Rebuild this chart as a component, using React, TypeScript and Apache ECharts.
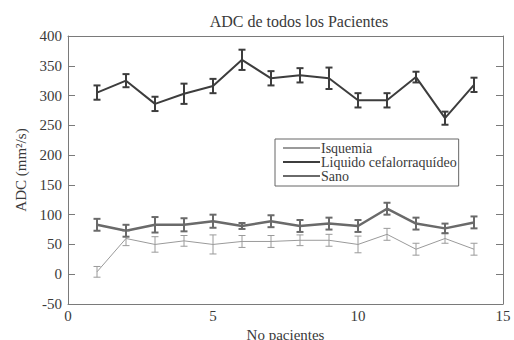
import React, { useEffect, useRef } from "react";
import * as echarts from "echarts";

const patients = [1, 2, 3, 4, 5, 6, 7, 8, 9, 10, 11, 12, 13, 14];
const liquido = [305, 325, 286, 303, 316, 360, 329, 334, 329, 292, 292, 331, 262, 318];
const liquidoErr = [12, 11, 12, 17, 12, 17, 12, 12, 18, 12, 12, 9, 11, 12];
const sano = [83, 73, 83, 83, 89, 81, 89, 81, 85, 81, 110, 85, 77, 87];
const sanoErr = [10, 10, 13, 11, 11, 5, 10, 10, 10, 10, 10, 10, 8, 10];
const isquemia = [4, 60, 50, 56, 50, 55, 55, 57, 57, 50, 67, 42, 60, 42];
const isquemiaErr = [9, 12, 13, 9, 16, 10, 10, 9, 10, 14, 10, 10, 8, 10];

const FONT = "Liberation Serif";
const TXT = "#3a3a3a";

export default function App() {
  const ref = useRef<HTMLDivElement>(null);
  useEffect(() => {
    if (!ref.current) return;
    const chart = echarts.init(ref.current, undefined, { renderer: "svg" });

    const lineSeries = (name: string, vals: number[], color: string, width: number) => ({
      name,
      type: "line",
      data: patients.map((p, i) => [p, vals[i]]),
      symbol: "none",
      showSymbol: false,
      lineStyle: { color, width },
      itemStyle: { color },
      z: 3,
    });

    const errSeries = (name: string, vals: number[], errs: number[], color: string, width: number) => ({
      name,
      type: "custom",
      data: patients.map((p, i) => [p, vals[i] - errs[i], vals[i] + errs[i]]),
      renderItem: (params: any, api: any) => {
        const x = api.value(0);
        const lo = api.coord([x, api.value(1)]);
        const hi = api.coord([x, api.value(2)]);
        const hw = 3.5;
        const style = { stroke: color, lineWidth: width };
        return {
          type: "group",
          children: [
            { type: "line", shape: { x1: lo[0], y1: lo[1], x2: hi[0], y2: hi[1] }, style },
            { type: "line", shape: { x1: lo[0] - hw, y1: lo[1], x2: lo[0] + hw, y2: lo[1] }, style },
            { type: "line", shape: { x1: hi[0] - hw, y1: hi[1], x2: hi[0] + hw, y2: hi[1] }, style },
          ],
        };
      },
      encode: { x: 0, y: [1, 2] },
      z: 4,
    });

    const axisLine = { show: true, onZero: false, lineStyle: { color: "#7a7a7a", width: 1 } };
    const yTick = { show: true, inside: true, length: 7, lineStyle: { color: "#7a7a7a" } };

    chart.setOption({
      animation: false,
      backgroundColor: "#fff",
      textStyle: { fontFamily: FONT },
      title: {
        text: "ADC de todos los Pacientes",
        left: 294,
        textAlign: "center",
        top: 8,
        textStyle: { fontFamily: FONT, fontWeight: "normal", fontSize: 16, color: TXT },
      },
      grid: { left: 68, right: 11, top: 36, bottom: 36, containLabel: false, outerBoundsMode: "none" },
      legend: {
        orient: "vertical",
        left: 275,
        top: 139,
        data: [
          { name: "Isquemia", icon: "rect" },
          { name: "Liquido cefalorraquídeo", icon: "rect" },
          { name: "Sano", icon: "rect" },
        ],
        itemWidth: 37,
        itemHeight: 2,
        itemGap: 0,
        padding: [2, 2, 3, 8],
        borderColor: "#666",
        borderWidth: 1,
        borderRadius: 0,
        backgroundColor: "#fff",
        textStyle: { fontFamily: FONT, fontSize: 14, color: TXT, padding: [0, 0, 0, -4], lineHeight: 14 },
        selectedMode: false,
      },
      xAxis: [
        {
          type: "value",
          min: 0,
          max: 15,
          interval: 5,
          name: "No pacientes",
          nameLocation: "middle",
          nameGap: 17,
          nameTextStyle: { fontFamily: FONT, fontSize: 15, color: TXT },
          axisLine,
          axisTick: { show: false },
          splitLine: { show: false },
          axisLabel: { fontFamily: FONT, fontSize: 15, color: TXT, margin: 4 },
        },
        {
          type: "value",
          position: "top",
          min: 0,
          max: 15,
          interval: 5,
          axisLine,
          axisTick: { show: false },
          axisLabel: { show: false },
          splitLine: { show: false },
        },
      ],
      yAxis: [
        {
          type: "value",
          min: -50,
          max: 400,
          interval: 50,
          name: "ADC (mm²/s)",
          nameLocation: "middle",
          nameGap: 40,
          nameTextStyle: { fontFamily: FONT, fontSize: 15, color: TXT },
          axisLine,
          axisTick: yTick,
          splitLine: { show: false },
          axisLabel: { fontFamily: FONT, fontSize: 15, color: TXT, margin: 6 },
        },
        {
          type: "value",
          position: "right",
          min: -50,
          max: 400,
          interval: 50,
          axisLine,
          axisTick: yTick,
          splitLine: { show: false },
          axisLabel: { show: false },
        },
      ],
      series: [
        lineSeries("Isquemia", isquemia, "#9a9a9a", 1),
        lineSeries("Liquido cefalorraquídeo", liquido, "#3d3d3d", 2),
        lineSeries("Sano", sano, "#6a6a6a", 2.5),
        errSeries("errIsq", isquemia, isquemiaErr, "#9a9a9a", 1),
        errSeries("errLiq", liquido, liquidoErr, "#3d3d3d", 2),
        errSeries("errSano", sano, sanoErr, "#6a6a6a", 2),
      ],
    });
    return () => chart.dispose();
  }, []);
  return <div ref={ref} style={{ width: 514, height: 340, position: "absolute", left: 0, top: 0 }} />;
}
